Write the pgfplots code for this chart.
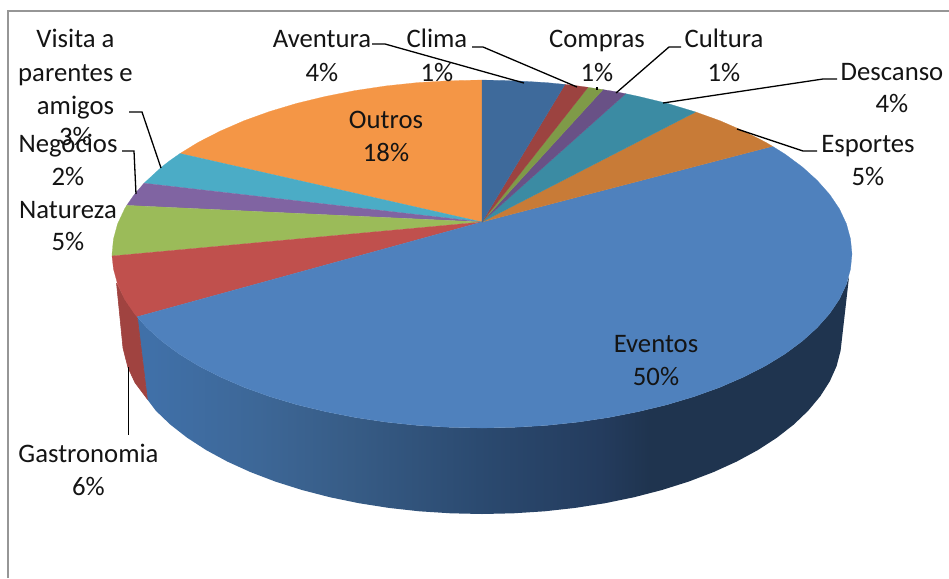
\documentclass[border=0pt]{standalone}
\usepackage{pgfplots}
\pgfplotsset{compat=1.18}
\usepackage{fontspec}
\setmainfont{Carlito}
\definecolor{cAve}{HTML}{3E6A9B}
\definecolor{cCli}{HTML}{9C4340}
\definecolor{cCom}{HTML}{7F9A48}
\definecolor{cCul}{HTML}{695186}
\definecolor{cDes}{HTML}{3B8BA3}
\definecolor{cEsp}{HTML}{C87B37}
\definecolor{cEve}{HTML}{4F81BD}
\definecolor{cGas}{HTML}{C0504D}
\definecolor{cGasS}{HTML}{A04340}
\definecolor{cNat}{HTML}{9BBB59}
\definecolor{cNeg}{HTML}{8064A2}
\definecolor{cVis}{HTML}{4BACC6}
\definecolor{cOut}{HTML}{F49646}
\definecolor{cFrame}{HTML}{969696}
\definecolor{s0}{HTML}{4070A8}
\definecolor{s1}{HTML}{3D6797}
\definecolor{s2}{HTML}{375C86}
\definecolor{s3}{HTML}{2B4A70}
\definecolor{s4}{HTML}{243C5E}
\definecolor{s5}{HTML}{1F344F}
\pgfdeclarehorizontalshading{evside}{100bp}{color(0bp)=(s0);color(26bp)=(s0);color(33.5bp)=(s1);color(40bp)=(s2);color(49bp)=(s3);color(57.5bp)=(s4);color(61bp)=(s5);color(100bp)=(s5)}
\tikzset{lab/.style={anchor=base,inner sep=0pt,text=black!92,font=\fontsize{26.7}{32}\selectfont}}
\begin{document}
\begin{tikzpicture}
\path[use as bounding box] (0,0) rectangle (949pt,578pt);
\begin{axis}[
  anchor=south west, at={(0,0)},
  scale only axis, width=949pt, height=578pt,
  xmin=0, xmax=949, ymin=0, ymax=578, y dir=reverse,
  hide axis, no markers]
% frame
\addplot[cFrame, line width=1.8pt] coordinates {(8,578) (8,11) (949,11)};
% side walls
\addplot[draw=none, shading=evside] coordinates {(137,316.8) (146.8,327.6) (161.6,341) (179,353.9) (198.6,365.9) (220.4,377) (244.1,387.3) (269.6,396.5) (297,404.7) (325.5,411.6) (355.5,417.5) (386.2,422.1) (417.7,425.4) (449.8,427.3) (482,428) (514.2,427.3) (546.3,425.4) (577.8,422.1) (608.5,417.5) (638.5,411.6) (667,404.7) (694.4,396.5) (719.9,387.3) (743.6,377) (765.4,365.9) (785,353.9) (802.4,341) (817.2,327.6) (829.7,313.5) (839.4,299.1) (846.4,284.2) (849,277)
 (840.6,350.6) (836.6,366.1) (829.8,381.3) (820.3,396.2) (808.2,410.7) (793.8,424.5) (776.9,437.7) (757.8,450.1) (736.6,461.6) (713.5,472.1) (688.6,481.6) (662,490) (634.2,497.2) (605.1,503.2) (575.2,507.9) (544.6,511.3) (513.4,513.3) (482,514) (450.6,513.3) (419.4,511.3) (388.8,507.9) (358.9,503.2) (329.8,497.2) (302,490) (275.4,481.6) (250.5,472.1) (227.4,461.6) (206.2,450.1) (187.1,437.7) (170.2,424.5) (155.8,410.7) (147,399) (137,316.8)};
\addplot[fill=cGasS, draw=cGasS, line width=0.6pt] coordinates {(116.5,283) (124.6,299.1) (134.3,313.5) (137.3,316.8) (147.3,399) (135,382.6) (128,367.6) (123,348) (116.5,283)};
% top faces
\addplot[fill=cOut, draw=cOut, line width=0.2pt] coordinates {(482,222) (482,80) (449.8,80.7) (417.7,82.6) (386.2,85.9) (355.5,90.5) (325.5,96.4) (297,103.3) (269.6,111.5) (244.1,120.7) (220.4,131) (198.6,142.1) (180,153.5) (482,222)};
\addplot[fill=cVis, draw=cVis, line width=0.2pt] coordinates {(482,222) (180,153.5) (170,160.5) (161.6,167) (144,183.2) (482,222)};
\addplot[fill=cNeg, draw=cNeg, line width=0.2pt] coordinates {(482,222) (144,183.2) (134.3,194.5) (126.7,205.4) (482,222)};
\addplot[fill=cNat, draw=cNat, line width=0.2pt] coordinates {(482,222) (126.7,205.4) (124.6,208.9) (117.6,223.8) (113.5,238.9) (112,254) (112,256) (482,222)};
\addplot[fill=cGas, draw=cGas, line width=0.2pt] coordinates {(482,222) (112,256) (113.5,269.1) (117.6,284.2) (124.6,299.1) (134.3,313.5) (137,316.8) (482,222)};
\addplot[fill=cEve, draw=cEve, line width=0.2pt] coordinates {(482,222) (137,316.8) (146.8,327.6) (161.6,341) (179,353.9) (198.6,365.9) (220.4,377) (244.1,387.3) (269.6,396.5) (297,404.7) (325.5,411.6) (355.5,417.5) (386.2,422.1) (417.7,425.4) (449.8,427.3) (482,428) (514.2,427.3) (546.3,425.4) (577.8,422.1) (608.5,417.5) (638.5,411.6) (667,404.7) (694.4,396.5) (719.9,387.3) (743.6,377) (765.4,365.9) (785,353.9) (802.4,341) (817.2,327.6) (829.7,313.5) (839.4,299.1) (846.4,284.2) (850.5,269.1) (852,254) (850.5,238.9) (846.4,223.8) (839.4,208.9) (829.7,194.5) (817.2,180.4) (802.4,167) (785,154.1) (772.5,146.3) (482,222)};
\addplot[fill=cEsp, draw=cEsp, line width=0.2pt] coordinates {(482,222) (772.5,146.3) (765.4,142.1) (743.6,131) (719.9,120.7) (695.7,112) (482,222)};
\addplot[fill=cDes, draw=cDes, line width=0.2pt] coordinates {(482,222) (695.7,112) (667,103.3) (638.5,96.4) (625.7,93.7) (482,222)};
\addplot[fill=cCul, draw=cCul, line width=0.2pt] coordinates {(482,222) (625.7,93.7) (614,91.4) (603,89.6) (482,222)};
\addplot[fill=cCom, draw=cCom, line width=0.2pt] coordinates {(482,222) (603,89.6) (588,87.3) (482,222)};
\addplot[fill=cCli, draw=cCli, line width=0.2pt] coordinates {(482,222) (588,87.3) (577.8,85.9) (565,84.4) (482,222)};
\addplot[fill=cAve, draw=cAve, line width=0.2pt] coordinates {(482,222) (565,84.4) (546.3,82.6) (514.2,80.7) (482,80) (482,222)};
% leader lines
\addplot[black, line width=1.3pt] coordinates {(129,112) (142,112) (161,168)};
\addplot[black, line width=1.3pt] coordinates {(122,151) (134,151) (136,194)};
\addplot[black, line width=1.3pt] coordinates {(372,44) (385,44) (524,83)};
\addplot[black, line width=1.3pt] coordinates {(472,47) (483,47) (577,87)};
\addplot[black, line width=1.3pt] coordinates {(597,87) (597,90)};
\addplot[black, line width=1.3pt] coordinates {(681,47) (669,47) (616,93)};
\addplot[black, line width=1.3pt] coordinates {(663,103) (823,79) (837,79)};
\addplot[black, line width=1.3pt] coordinates {(737,129) (803,151) (817,151)};
\addplot[black, line width=1.3pt] coordinates {(128.3,367) (128.3,435)};
% labels
\node[lab] at (axis cs:75.5,48) {Visita a};
\node[lab] at (axis cs:75.5,81) {parentes e};
\node[lab] at (axis cs:75.5,114) {amigos};
\node[lab] at (axis cs:75.5,145) {3\%};
\node[lab] at (axis cs:68,152.7) {Negócios};
\node[lab] at (axis cs:68,185) {2\%};
\node[lab] at (axis cs:68,218) {Natureza};
\node[lab] at (axis cs:68,250.7) {5\%};
\node[lab] at (axis cs:88.5,462.7) {Gastronomia};
\node[lab] at (axis cs:88.5,495) {6\%};
\node[lab] at (axis cs:322,48) {Aventura};
\node[lab] at (axis cs:322,81) {4\%};
\node[lab] at (axis cs:437,48) {Clima};
\node[lab] at (axis cs:437,81) {1\%};
\node[lab] at (axis cs:597,48) {Compras};
\node[lab] at (axis cs:597,81) {1\%};
\node[lab] at (axis cs:724,48) {Cultura};
\node[lab] at (axis cs:724,81) {1\%};
\node[lab] at (axis cs:892,80) {Descanso};
\node[lab] at (axis cs:892,112.7) {4\%};
\node[lab] at (axis cs:868,152) {Esportes};
\node[lab] at (axis cs:868,185) {5\%};
\node[lab] at (axis cs:656,352) {Eventos};
\node[lab] at (axis cs:656,385) {50\%};
\node[lab] at (axis cs:386,128) {Outros};
\node[lab] at (axis cs:386,161) {18\%};
\end{axis}
\end{tikzpicture}
\end{document}
